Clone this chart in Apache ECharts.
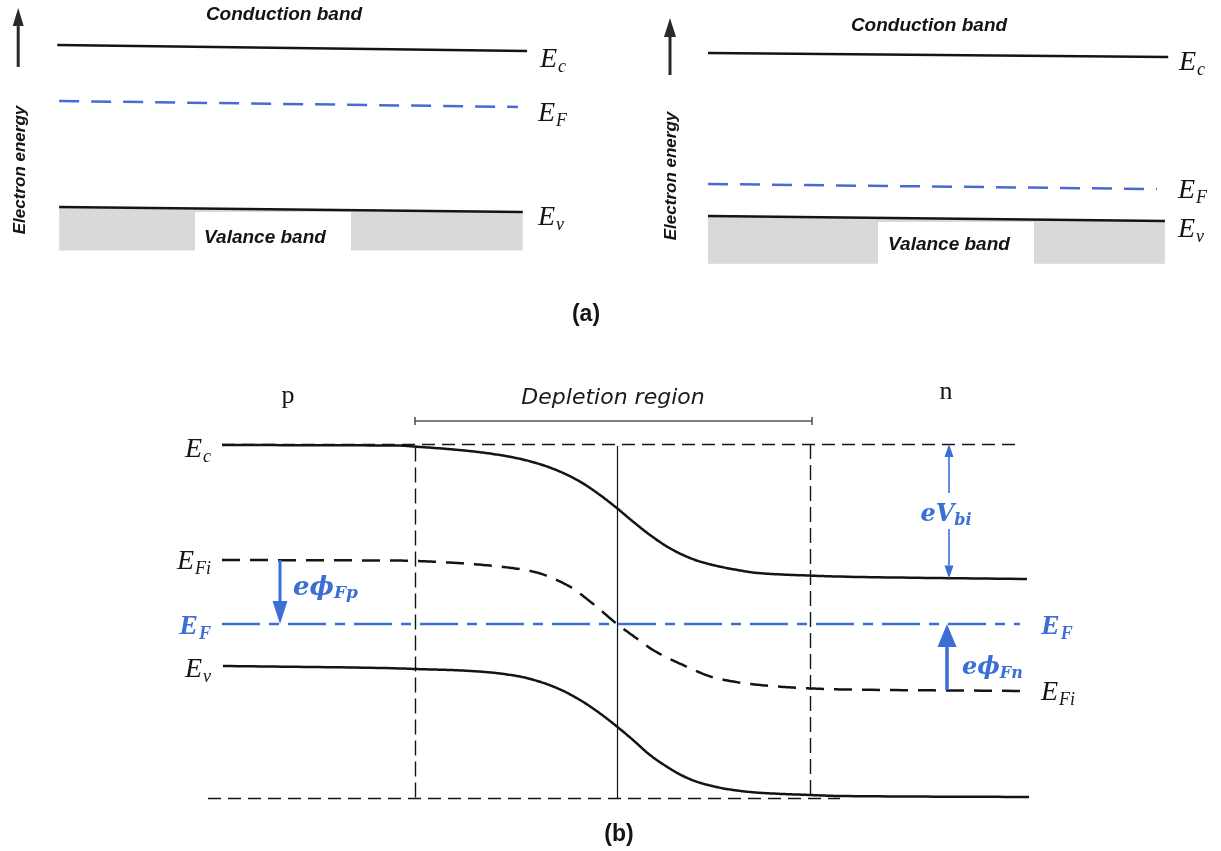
<!DOCTYPE html>
<html>
<head>
<meta charset="utf-8">
<script src="https://cdn.jsdelivr.net/npm/echarts@6/dist/echarts.min.js"></script>
<style>
  html, body { margin: 0; padding: 0; background: #ffffff; }
  #chart { width: 1221px; height: 851px; }
</style>
</head>
<body>
<div id="chart"></div>
<script>
// ---- (a) left: n-type band picture (energy in eV, Ev = 0 at the left edge) ----
const nTypeEc = [[1.1, 1.117], [99.8, 1.076]];
const nTypeEF = [[1.5, 0.731], [97.9, 0.690]];
const nTypeEv = [[1.5, 0.0], [98.9, -0.034]];
const nTypeValenceFloor = -0.30;
const nTypeAxisArrow = [[-7.1, 0.966, 1.372]];

// ---- (a) right: p-type band picture ----
const pTypeEc = [[1.07, 1.124], [99.4, 1.097]];
const pTypeEF = [[1.07, 0.221], [97.0, 0.186]];
const pTypeEv = [[1.07, 0.0], [98.7, -0.034]];
const pTypeValenceFloor = -0.33;
const pTypeAxisArrow = [[-7.05, 0.972, 1.366]];

// ---- (b) pn junction in equilibrium (position, energy relative to EF in eV) ----
const junctionEc = [
  [-3.95, 0.895], [-2.17, 0.892], [-2.02, 0.887], [-1.67, 0.874], [-1.34, 0.857],
  [-1.00, 0.829], [-0.77, 0.799], [-0.57, 0.762], [-0.37, 0.712], [-0.17, 0.645],
  [0.00, 0.579], [0.16, 0.512], [0.33, 0.445], [0.50, 0.387], [0.66, 0.345],
  [0.83, 0.312], [1.16, 0.274], [1.43, 0.254], [1.93, 0.242], [2.23, 0.237],
  [4.10, 0.225]
];
const junctionEFi = [
  [-3.95, 0.320], [-2.17, 0.317], [-1.67, 0.307], [-1.17, 0.287], [-0.84, 0.262],
  [-0.50, 0.195], [-0.25, 0.105], [0.00, 0.000], [0.18, -0.066], [0.36, -0.130],
  [0.66, -0.205], [1.00, -0.272], [1.43, -0.305], [1.93, -0.322], [2.23, -0.327],
  [4.12, -0.335]
];
const junctionEv = [
  [-3.94, -0.210], [-2.17, -0.222], [-2.02, -0.225], [-1.67, -0.230], [-1.34, -0.239],
  [-1.00, -0.260], [-0.77, -0.289], [-0.57, -0.327], [-0.37, -0.380], [-0.17, -0.447],
  [0.01, -0.517], [0.16, -0.580], [0.33, -0.655], [0.50, -0.714], [0.66, -0.760],
  [0.83, -0.794], [1.16, -0.830], [1.43, -0.844], [1.93, -0.855], [2.23, -0.860],
  [4.12, -0.865]
];
const junctionEF = [[-3.95, 0.0], [4.03, 0.0]];
const refEcLevel = [[-3.95, 0.90], [4.0, 0.90]];
const refEvLevel = [[-4.09, -0.871], [2.23, -0.871]];
const depletionEdges = [[-2.02, 0.887, -0.871], [1.93, 0.90, -0.871]];
const junctionPlane = [[0.0, 0.89, -0.871]];
const depletionBracket = { from: -2.02, to: 1.95, level: 1.015, tick: 0.02 };
const arrowPhiFp = [[-3.37, 0.32, 0.0]];
const arrowVbi = [[3.32, 0.655, 0.90], [3.32, 0.475, 0.228]];
const arrowPhiFn = [[3.30, -0.33, 0.0]];

const INK = '#141414';
const BLUE = '#3b6fd6';
const GRAY = '#d9d9d9';

function arrowRenderer(headW, headL, shaftW, color) {
  return function (params, api) {
    const p0 = api.coord([api.value(0), api.value(1)]);
    const p1 = api.coord([api.value(0), api.value(2)]);
    const dir = p1[1] > p0[1] ? 1 : -1;
    const baseY = p1[1] - dir * headL;
    return {
      type: 'group',
      children: [
        { type: 'line', shape: { x1: p0[0], y1: p0[1], x2: p1[0], y2: baseY },
          style: { stroke: color, lineWidth: shaftW } },
        { type: 'polygon',
          shape: { points: [[p1[0], p1[1]], [p1[0] - headW / 2, baseY], [p1[0] + headW / 2, baseY]] },
          style: { fill: color } }
      ]
    };
  };
}

function arrowSeries(grid, data, headW, headL, shaftW, color) {
  return {
    type: 'custom', xAxisIndex: grid, yAxisIndex: grid, data: data,
    renderItem: arrowRenderer(headW, headL, shaftW, color), silent: true, z: 5
  };
}

// Shape-preserving cubic (PCHIP) through screen points, sampled into a polyline.
function pchipPath(P, steps) {
  const n = P.length;
  const h = [], d = [];
  for (let k = 0; k < n - 1; k++) {
    h.push(P[k + 1][0] - P[k][0]);
    d.push((P[k + 1][1] - P[k][1]) / h[k]);
  }
  const m = new Array(n).fill(0);
  m[0] = d[0];
  m[n - 1] = d[n - 2];
  for (let k = 1; k < n - 1; k++) {
    if (d[k - 1] * d[k] <= 0) { m[k] = 0; continue; }
    const w1 = 2 * h[k] + h[k - 1], w2 = h[k] + 2 * h[k - 1];
    m[k] = (w1 + w2) / (w1 / d[k - 1] + w2 / d[k]);
  }
  const out = [P[0]];
  for (let k = 0; k < n - 1; k++) {
    for (let s = 1; s <= steps; s++) {
      const t = s / steps, t2 = t * t, t3 = t2 * t;
      const y = (2 * t3 - 3 * t2 + 1) * P[k][1] + (t3 - 2 * t2 + t) * h[k] * m[k] +
                (-2 * t3 + 3 * t2) * P[k + 1][1] + (t3 - t2) * h[k] * m[k + 1];
      out.push([P[k][0] + t * h[k], y]);
    }
  }
  return out;
}

function curveSeries(grid, pts, style) {
  return {
    type: 'custom', xAxisIndex: grid, yAxisIndex: grid, data: pts, silent: true, z: 4,
    renderItem: function (params, api) {
      if (params.dataIndex !== 0) return null;
      const screen = pts.map(p => api.coord(p));
      return {
        type: 'polyline',
        shape: { points: pchipPath(screen, 24) },
        style: Object.assign({ stroke: INK, lineWidth: 2.5, fill: null, lineJoin: 'round' }, style)
      };
    }
  };
}

function band(grid, data, style, extra) {
  return Object.assign({
    type: 'line', xAxisIndex: grid, yAxisIndex: grid, data: data,
    symbol: 'none', silent: true, animation: false,
    lineStyle: Object.assign({ color: INK, width: 2.5 }, style)
  }, extra || {});
}

function segments(grid, list, style) {
  return {
    type: 'lines', coordinateSystem: 'cartesian2d', xAxisIndex: grid, yAxisIndex: grid,
    polyline: false, silent: true, animation: false,
    lineStyle: Object.assign({ color: INK, width: 1.4, opacity: 1 }, style),
    data: list.map(c => ({ coords: c }))
  };
}

const serifE = { fontFamily: 'Liberation Serif', fontStyle: 'italic', fontSize: 28 };
const serifSub = { fontFamily: 'Liberation Serif', fontStyle: 'italic', fontSize: 18, padding: [15, 0, 0, 1] };

function symLabel(x, y, main, sub, align, color, bold) {
  const w = bold ? 'bold' : 'normal';
  return {
    type: 'text', x: x, y: y, silent: true,
    style: {
      text: '{m|' + main + '}{s|' + sub + '}',
      align: align, verticalAlign: 'middle', fill: color,
      rich: {
        m: Object.assign({}, serifE, { fill: color, fontWeight: w }),
        s: Object.assign({}, serifSub, { fill: color, fontWeight: w })
      }
    }
  };
}

function greekLabel(x, y, main, sub, align, size, subSize) {
  return {
    type: 'text', x: x, y: y, silent: true,
    style: {
      text: '{m|' + main + '}{s|' + sub + '}',
      align: align, verticalAlign: 'middle', fill: BLUE,
      rich: {
        m: { fontFamily: 'DejaVu Serif', fontStyle: 'italic', fontWeight: 'bold', fontSize: size, fill: BLUE },
        s: { fontFamily: 'DejaVu Serif', fontStyle: 'italic', fontWeight: 'bold', fontSize: subSize, fill: BLUE, padding: [12, 0, 0, 0] }
      }
    }
  };
}

function plainText(x, y, text, font, extra) {
  return Object.assign({
    type: 'text', x: x, y: y, silent: true,
    style: { text: text, font: font, fill: INK, align: 'center', verticalAlign: 'middle' }
  }, extra || {});
}

const bandFont = 'italic bold 19px "Liberation Sans"';
const axisFont = 'italic bold 17px "Liberation Sans"';
const panelFont = 'bold 23px "Liberation Sans"';

const chart = echarts.init(document.getElementById('chart'), null, { renderer: 'canvas' });

const hiddenAxis = { show: false, splitLine: { show: false } };

chart.setOption({
  backgroundColor: '#ffffff',
  animation: false,
  grid: [
    { left: 52, top: 4, width: 476, height: 261 },
    { left: 703, top: 13, width: 468, height: 261 },
    { left: 117, top: 384, width: 1000, height: 440 }
  ],
  xAxis: [
    Object.assign({ type: 'value', gridIndex: 0, min: 0, max: 100 }, hiddenAxis),
    Object.assign({ type: 'value', gridIndex: 1, min: 0, max: 100 }, hiddenAxis),
    Object.assign({ type: 'value', gridIndex: 2, min: -5, max: 5 }, hiddenAxis)
  ],
  yAxis: [
    Object.assign({ type: 'value', gridIndex: 0, min: -0.4, max: 1.4 }, hiddenAxis),
    Object.assign({ type: 'value', gridIndex: 1, min: -0.4, max: 1.4 }, hiddenAxis),
    Object.assign({ type: 'value', gridIndex: 2, min: -1.0, max: 1.2 }, hiddenAxis)
  ],
  series: [
    // (a) left
    band(0, nTypeEv, { width: 0 }, { areaStyle: { color: GRAY, opacity: 1, origin: nTypeValenceFloor }, z: 1 }),
    band(0, nTypeEc, {}),
    band(0, nTypeEF, { color: '#4a6ad0', type: [20, 12] }),
    band(0, nTypeEv, {}, { z: 4 }),
    arrowSeries(0, nTypeAxisArrow, 11, 18, 3, '#2a2a2a'),
    // (a) right
    band(1, pTypeEv, { width: 0 }, { areaStyle: { color: GRAY, opacity: 1, origin: pTypeValenceFloor }, z: 1 }),
    band(1, pTypeEc, {}),
    band(1, pTypeEF, { color: '#4a6ad0', type: [20, 12] }),
    band(1, pTypeEv, {}, { z: 4 }),
    arrowSeries(1, pTypeAxisArrow, 12, 19, 3, '#2a2a2a'),
    // (b) reference lines
    segments(2, [refEcLevel, refEvLevel], { type: [13, 7] }),
    segments(2, depletionEdges.map(d => [[d[0], d[1]], [d[0], d[2]]]), { type: [15, 6] }),
    segments(2, junctionPlane.map(d => [[d[0], d[1]], [d[0], d[2]]]), { width: 1.2 }),
    segments(2, [
      [[depletionBracket.from, depletionBracket.level], [depletionBracket.to, depletionBracket.level]],
      [[depletionBracket.from, depletionBracket.level + depletionBracket.tick], [depletionBracket.from, depletionBracket.level - depletionBracket.tick]],
      [[depletionBracket.to, depletionBracket.level + depletionBracket.tick], [depletionBracket.to, depletionBracket.level - depletionBracket.tick]]
    ], { color: '#555555', width: 1.6 }),
    // (b) band edges
    curveSeries(2, junctionEc, {}),
    curveSeries(2, junctionEFi, { lineDash: [18, 10] }),
    curveSeries(2, junctionEv, {}),
    band(2, junctionEF, { color: BLUE, width: 2.5, type: [38, 9, 10, 9] }, { z: 3 }),
    arrowSeries(2, arrowPhiFp, 15, 23, 3, BLUE),
    arrowSeries(2, arrowVbi, 9, 13, 1.6, BLUE),
    arrowSeries(2, arrowPhiFn, 19, 23, 3.5, BLUE)
  ],
  graphic: [
    // (a) left annotations
    { type: 'rect', shape: { x: 195, y: 212, width: 156, height: 48 }, style: { fill: '#ffffff' }, z: 10, silent: true },
    plainText(284, 15, 'Conduction band', bandFont, { z: 11 }),
    plainText(265, 238, 'Valance band', bandFont, { z: 11 }),
    plainText(20, 170, 'Electron energy', axisFont, { rotation: Math.PI / 2, z: 11 }),
    symLabel(540, 60, 'E', 'c', 'left', INK, false),
    symLabel(538, 114, 'E', 'F', 'left', INK, false),
    symLabel(538, 218, 'E', 'v', 'left', INK, false),
    // (a) right annotations
    { type: 'rect', shape: { x: 878, y: 222, width: 156, height: 50 }, style: { fill: '#ffffff' }, z: 10, silent: true },
    plainText(929, 26, 'Conduction band', bandFont, { z: 11 }),
    plainText(949, 245, 'Valance band', bandFont, { z: 11 }),
    plainText(671, 176, 'Electron energy', axisFont, { rotation: Math.PI / 2, z: 11 }),
    symLabel(1179, 63, 'E', 'c', 'left', INK, false),
    symLabel(1178, 191, 'E', 'F', 'left', INK, false),
    symLabel(1178, 230, 'E', 'v', 'left', INK, false),
    plainText(586, 315, '(a)', panelFont),
    // (b) annotations
    plainText(288, 396, 'p', '26px "Liberation Serif"'),
    plainText(946, 392, 'n', '26px "Liberation Serif"'),
    plainText(613, 398, 'Depletion region', 'italic 22px "DejaVu Sans"', { style: { text: 'Depletion region', font: 'italic 22px "DejaVu Sans"', fill: '#1a1a1a', align: 'center', verticalAlign: 'middle' } }),
    symLabel(211, 450, 'E', 'c', 'right', INK, false),
    symLabel(211, 562, 'E', 'Fi', 'right', INK, false),
    symLabel(211, 627, 'E', 'F', 'right', BLUE, true),
    symLabel(211, 670, 'E', 'v', 'right', INK, false),
    symLabel(1041, 627, 'E', 'F', 'left', BLUE, true),
    symLabel(1041, 693, 'E', 'Fi', 'left', INK, false),
    greekLabel(293, 588, 'eϕ', 'Fp', 'left', 26, 17),
    greekLabel(946, 515, 'eV', 'bi', 'center', 24, 16),
    greekLabel(962, 668, 'eϕ', 'Fn', 'left', 24, 16),
    plainText(619, 835, '(b)', panelFont)
  ]
});
</script>
</body>
</html>
